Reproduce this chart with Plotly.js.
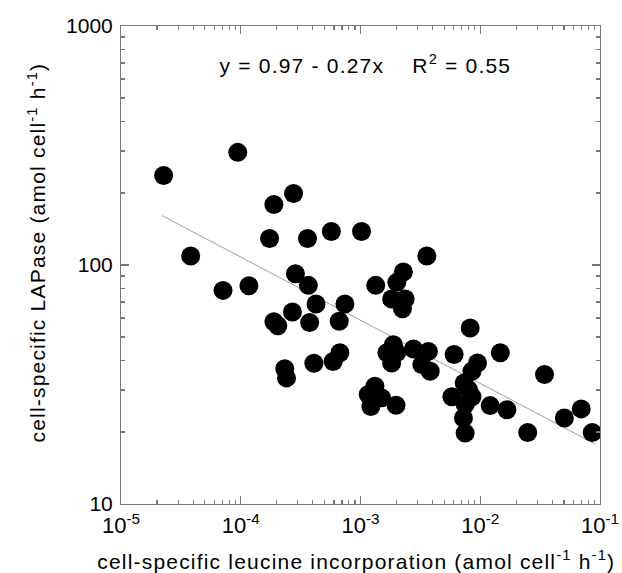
<!DOCTYPE html>
<html>
<head>
<meta charset="utf-8">
<script src="https://cdn.plot.ly/plotly-3.0.1.min.js"></script>
<style>
html,body{margin:0;padding:0;background:#fff;}
#chart{width:622px;height:573px;}
#chart .annotation-text{letter-spacing:1.2px;}
</style>
</head>
<body>
<div id="chart"></div>
<script>
// cell-specific leucine incorporation (amol cell-1 h-1)
var leucine = [
  2.27e-5, 9.44e-5, 2.76e-4, 1.89e-4, 1.74e-4, 3.61e-4, 5.71e-4, 1.02e-3,
  3.82e-5, 7.11e-5, 1.17e-4, 2.86e-4, 3.67e-4, 4.25e-4, 7.41e-4, 2.70e-4,
  1.89e-4, 2.04e-4, 3.76e-4, 6.64e-4, 2.33e-4, 2.41e-4, 4.08e-4, 5.91e-4,
  6.73e-4, 3.58e-3, 2.28e-3, 2.01e-3, 1.34e-3, 1.82e-3, 2.36e-3, 2.24e-3,
  1.88e-3, 1.66e-3, 1.82e-3, 2.01e-3, 2.77e-3, 3.69e-3, 3.25e-3, 3.82e-3,
  1.32e-3, 1.16e-3, 1.50e-3, 1.22e-3, 1.98e-3, 8.24e-3, 6.05e-3, 1.47e-2,
  9.48e-3, 8.53e-3, 7.34e-3, 5.79e-3, 8.53e-3, 7.48e-3, 1.21e-2, 1.67e-2,
  7.24e-3, 7.48e-3, 2.49e-2, 3.44e-2, 5.04e-2, 6.97e-2, 8.61e-2, 7.98e-3
];
// cell-specific LAPase (amol cell-1 h-1)
var lapase = [
  237, 296, 199, 179, 129, 129, 138, 138,
  109, 78.3, 81.9, 91.9, 82.2, 68.7, 68.7, 63.6,
  57.9, 55.7, 57.5, 58.2, 36.8, 33.7, 38.8, 39.5,
  42.9, 109, 93.4, 84.6, 82.2, 72.1, 72.1, 65.6,
  46.4, 42.9, 38.9, 43.0, 44.5, 43.5, 38.3, 35.9,
  31.1, 28.7, 27.8, 25.6, 25.9, 54.5, 42.2, 42.9,
  38.9, 35.9, 32.1, 28.1, 28.1, 26.1, 25.8, 24.8,
  22.9, 19.8, 19.9, 34.8, 22.9, 25.0, 19.9, 30.1
];
// regression line end points
var fitX = [2.2e-5, 9.16e-2];
var fitY = [161, 17.8];

var xTickVals = [1e-5, 1e-4, 1e-3, 1e-2, 1e-1];
var xTickText = ['10<sup>-5</sup>', '10<sup>-4</sup>', '10<sup>-3</sup>', '10<sup>-2</sup>', '10<sup>-1</sup>'];
var yTickVals = [10, 100, 1000];
var yTickText = ['10', '100', '1000'];

var equationText = 'y = 0.97 - 0.27x    R<sup>2</sup> = 0.55';
var xTitle = 'cell-specific leucine incorporation (amol cell<sup>-1</sup> h<sup>-1</sup>)';
var yTitle = 'cell-specific LAPase (amol cell<sup>-1</sup> h<sup>-1</sup>)';

// minor tick positions (2..9 within each decade)
function minorTicks(lo, hi) {
  var out = [];
  for (var e = lo; e < hi; e++) {
    for (var m = 2; m <= 9; m++) out.push(m * Math.pow(10, e));
  }
  return out;
}
var xMinor = minorTicks(-5, -1);
var yMinor = minorTicks(1, 3);

var font = 'Liberation Sans, Arial, Helvetica, sans-serif';
var axisGray = '#787878';

var traces = [
  {
    x: fitX, y: fitY, mode: 'lines', type: 'scatter',
    line: {color: '#a0a0a0', width: 1}, hoverinfo: 'skip', showlegend: false
  },
  {
    x: leucine, y: lapase, mode: 'markers', type: 'scatter',
    marker: {color: '#000', size: 19, line: {width: 0}}, showlegend: false
  }
];

var layout = {
  width: 622, height: 573,
  margin: {l: 121, r: 22, t: 26, b: 69, pad: 0},
  paper_bgcolor: '#fff', plot_bgcolor: '#fff',
  font: {family: font, size: 20, color: '#000'},
  xaxis: {
    type: 'log', range: [-5, -1], tickmode: 'array', tickvals: xTickVals, ticktext: xTickText,
    ticks: 'inside', ticklen: 8, tickwidth: 1.2, tickcolor: axisGray,
    showline: true, linecolor: axisGray, linewidth: 1, mirror: 'ticks',
    showgrid: false, zeroline: false, ticklabelstandoff: 2,
    tickfont: {family: font, size: 22, color: '#000'},
    minor: {tickmode: 'array', tickvals: xMinor, ticks: 'inside', ticklen: 4,
            tickwidth: 1.2, tickcolor: axisGray, showgrid: false}
  },
  yaxis: {
    type: 'log', range: [1, 3], tickmode: 'array', tickvals: yTickVals, ticktext: yTickText,
    ticks: 'inside', ticklen: 8, tickwidth: 1.2, tickcolor: axisGray,
    showline: true, linecolor: axisGray, linewidth: 1, mirror: 'ticks',
    showgrid: false, zeroline: false, ticklabelstandoff: 3,
    tickfont: {family: font, size: 21, color: '#000'},
    minor: {tickmode: 'array', tickvals: yMinor, ticks: 'inside', ticklen: 4,
            tickwidth: 1.2, tickcolor: axisGray, showgrid: false}
  },
  annotations: [
    {text: equationText, xref: 'paper', yref: 'paper', x: 0.511, y: 0.92,
     xanchor: 'center', yanchor: 'middle', showarrow: false,
     font: {family: font, size: 21, color: '#000'}},
    {text: xTitle, xref: 'paper', yref: 'paper', x: 0.49, y: -0.118,
     xanchor: 'center', yanchor: 'middle', showarrow: false,
     font: {family: font, size: 21, color: '#000'}},
    {text: yTitle, xref: 'paper', yref: 'paper', x: -0.176, y: 0.525,
     xanchor: 'center', yanchor: 'middle', showarrow: false, textangle: -90,
     font: {family: font, size: 21, color: '#000'}}
  ]
};

Plotly.newPlot('chart', traces, layout, {displayModeBar: false, staticPlot: true});
</script>
</body>
</html>
